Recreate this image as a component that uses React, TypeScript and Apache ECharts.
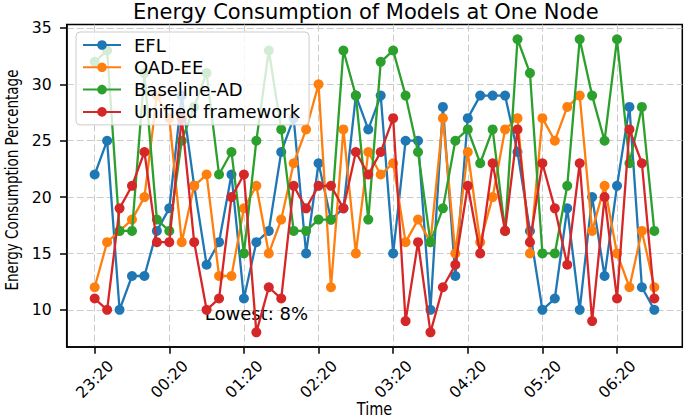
import React, { useEffect, useRef } from "react";
import * as echarts from "echarts";

const timeLabels = ["23:20", "00:20", "01:20", "02:20", "03:20", "04:20", "05:20", "06:20"];
const yTicks = [10, 15, 20, 25, 30, 35];
const seriesNames = ["EFL", "OAD-EE", "Baseline-AD", "Unified framework"];

const efl = [22, 25, 10, 13, 13, 17, 19, 29, 21, 14, 16, 22, 11, 16, 17, 24, 27, 15, 23, 18, 19, 29, 26, 29, 15, 25, 25, 10, 28, 13, 27, 29, 29, 29, 24, 17, 10, 11, 19, 10, 20, 13, 21, 28, 12, 10];
const oadEE = [12, 16, 17, 18, 20, 29, 27, 16, 21, 22, 13, 13, 19, 21, 15, 18, 23, 26, 30, 12, 26, 15, 24, 22, 23, 16, 18, 16, 27, 15, 24, 16, 20, 26, 27, 15, 27, 25, 28, 29, 17, 21, 15, 12, 17, 12];
const baselineAD = [32, 33, 17, 17, 31, 18, 17, 25, 28, 31, 22, 24, 15, 25, 33, 26, 17, 17, 18, 18, 33, 29, 18, 32, 33, 29, 24, 16, 19, 25, 26, 23, 26, 17, 34, 31, 15, 15, 21, 34, 29, 25, 34, 23, 28, 17];
const unified = [11, 10, 19, 21, 24, 16, 16, 27, 16, 10, 11, 20, 22, 8, 12, 11, 21, 19, 21, 21, 19, 24, 22, 24, 27, 9, 16, 8, 12, 14, 21, 15, 23, 17, 26, 16, 23, 19, 14, 23, 9, 20, 11, 26, 23, 11];

const colors = ["#1f77b4", "#ff7f0e", "#2ca02c", "#d62728"];
const FONT = '"DejaVu Sans", sans-serif';

export default function App() {
  const ref = useRef<HTMLDivElement>(null);

  useEffect(() => {
    document.body.style.margin = "0";
    if (!ref.current) return;
    const chart = echarts.init(ref.current, undefined, { renderer: "svg" });
    const allData = [efl, oadEE, baselineAD, unified];
    const tickVals = timeLabels.map((_, k) => k * 6);
    const minIdx = unified.indexOf(Math.min(...unified));

    const series: any[] = allData.map((arr, s) => ({
      type: "line",
      name: seriesNames[s],
      data: arr.map((v, i) => [i, v]),
      symbol: "circle",
      symbolSize: 10,
      showSymbol: true,
      z: 2 + s,
      lineStyle: { width: 2.3, color: colors[s] },
      itemStyle: { color: colors[s], borderWidth: 0 },
      emphasis: { disabled: true },
      silent: true,
    }));
    series[3].markPoint = {
      silent: true,
      symbol: "circle",
      symbolSize: 0,
      data: [
        {
          coord: [minIdx, unified[minIdx]],
          label: {
            show: true,
            position: "inside",
            offset: [0, -19],
            formatter: "Lowest: " + unified[minIdx] + "%",
            color: "#000",
            fontSize: 18,
            fontFamily: FONT,
          },
        },
      ],
    };

    const gridLine = { show: true, lineStyle: { type: [7, 3], color: "#cccccc", width: 1 } };

    chart.setOption({
      animation: false,
      title: {
        text: "Energy Consumption of Models at One Node",
        left: 133,
        top: 1,
        padding: 0,
        textStyle: { fontSize: 21, fontWeight: "normal", color: "#000", fontFamily: FONT },
      },
      grid: {
        left: 66.7,
        top: 24.6,
        width: 615.6,
        height: 322.4,
        show: true,
        borderColor: "#000",
        borderWidth: 1.5,
        backgroundColor: "transparent",
      },
      legend: {
        orient: "vertical",
        left: 76,
        top: 32,
        z: 10,
        data: seriesNames,
        itemWidth: 38,
        itemHeight: 12,
        itemGap: 4.3,
        padding: [4, 9, 4, 6],
        backgroundColor: "rgba(255,255,255,0.8)",
        borderColor: "#cccccc",
        borderWidth: 1,
        borderRadius: 4,
        selectedMode: false,
        textStyle: { fontSize: 18, fontFamily: FONT, color: "#000", padding: [0, 0, 0, 8] },
      },
      xAxis: {
        type: "value",
        min: -2.25,
        max: 47.25,
        axisLine: { show: true, onZero: false, lineStyle: { color: "#000", width: 1.5 } },
        axisTick: { show: true, customValues: tickVals, length: 6.7, lineStyle: { color: "#000", width: 1.5 } },
        axisLabel: {
          customValues: tickVals,
          formatter: (v: number) => timeLabels[Math.round(v / 6)] ?? "",
          rotate: 45,
          align: "center",
          verticalAlign: "middle",
          margin: 32,
          fontSize: 15.7,
          color: "#000",
          fontFamily: FONT,
        },
        splitLine: gridLine,
      },
      yAxis: {
        type: "value",
        min: 6.7,
        max: 35.3,
        axisLine: { show: true, onZero: false, lineStyle: { color: "#000", width: 1.5 } },
        axisTick: { show: true, customValues: yTicks, length: 6.7, lineStyle: { color: "#000", width: 1.5 } },
        axisLabel: {
          customValues: yTicks,
          margin: 15,
          fontSize: 15.7,
          color: "#000",
          fontFamily: FONT,
        },
        splitLine: gridLine,
      },
      graphic: [
        {
          type: "text",
          x: 12,
          y: 180,
          rotation: Math.PI / 2,
          scaleX: 0.75,
          silent: true,
          style: {
            text: "Energy Consumption Percentage",
            font: '18px "DejaVu Sans", sans-serif',
            fill: "#000",
            align: "center",
            verticalAlign: "middle",
            textAlign: "center",
            textVerticalAlign: "middle",
          },
        },
        {
          type: "text",
          x: 374.5,
          y: 409,
          scaleX: 0.85,
          silent: true,
          style: {
            text: "Time",
            font: '17px "DejaVu Sans", sans-serif',
            fill: "#000",
            align: "center",
            verticalAlign: "middle",
            textAlign: "center",
            textVerticalAlign: "middle",
          },
        },
      ],
      series,
    });
    return () => chart.dispose();
  }, []);

  return <div ref={ref} style={{ width: 685, height: 418 }} />;
}
